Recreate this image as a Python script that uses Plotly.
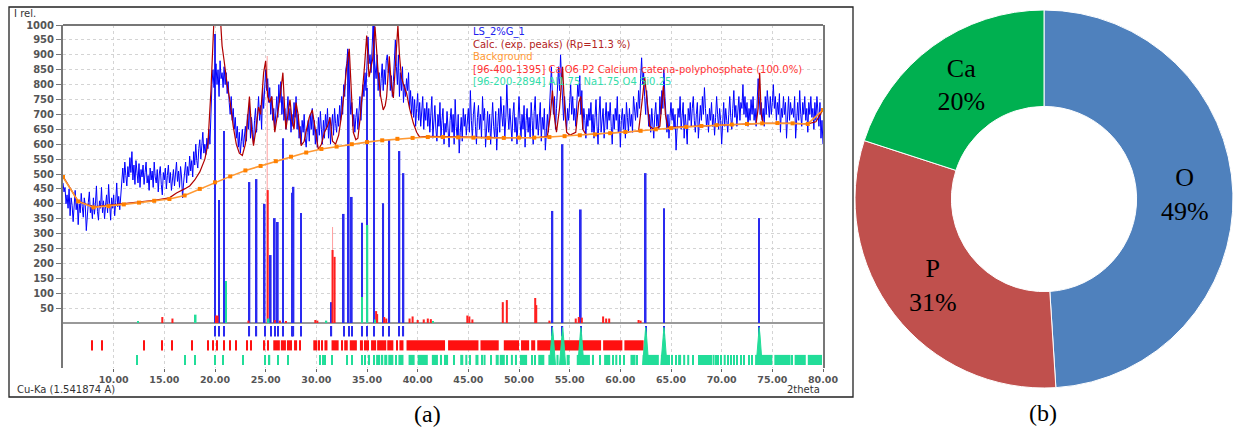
import plotly.graph_objects as go

# ---------------- XRD data ----------------
scan_start = 5.0
scan_step = 0.1
scan_counts = [
    470, 440, 455, 400, 430, 385, 450, 360, 420, 395, 340, 410, 445, 380, 415, 330, 400, 370, 435, 390,
    355, 420, 395, 310, 380, 405, 440, 370, 395, 350, 420, 365, 400, 460, 375, 345, 410, 385, 455, 370,
    410, 350, 395, 430, 370, 465, 400, 345, 420, 385, 430, 360, 405, 470, 390, 425, 380, 440, 500, 520,
    470, 540, 495, 460, 525, 490, 555, 505, 575, 480, 530, 465, 545, 500, 470, 535, 455, 515, 490, 530,
    465, 505, 540, 470, 495, 445, 520, 480, 510, 455, 540, 490, 470, 515, 440, 500, 525, 465, 430, 505,
    480, 520, 450, 495, 530, 470, 505, 445, 485, 515, 460, 500, 540, 475, 510, 455, 525, 490, 420, 470,
    505, 540, 470, 525, 495, 560, 510, 545, 490, 575, 530, 600, 545, 520, 585, 615, 550, 590, 640, 570,
    600, 565, 620, 585, 650, 600, 720, 800, 850, 790, 830, 870, 800, 850, 760, 880, 820, 840, 790, 860,
    800, 840, 770, 810, 740, 700, 760, 680, 720, 650, 690, 620, 660, 590, 640, 570, 610, 650, 590, 630,
    660, 610, 700, 650, 740, 620, 690, 650, 600, 680, 720, 640, 700, 760, 680, 730, 650, 790, 720, 770,
    850, 780, 820, 740, 790, 700, 760, 680, 720, 650, 700, 760, 690, 800, 740, 810, 700, 760, 680, 720,
    650, 700, 760, 680, 720, 640, 700, 660, 740, 690, 760, 650, 700, 620, 660, 600, 680, 640, 700, 620,
    590, 640, 680, 610, 700, 650, 720, 630, 680, 600, 650, 590, 690, 630, 710, 650, 600, 680, 620, 700,
    650, 720, 620, 690, 600, 660, 700, 630, 720, 670, 640, 700, 660, 730, 680, 760, 700, 800, 760, 850,
    870, 920, 840, 760, 700, 740, 660, 700, 640, 690, 720, 650, 710, 760, 680, 740, 800, 760, 840, 780,
    920, 960, 870, 900, 840, 950, 1000, 900, 860, 820, 900, 780, 840, 760, 820, 870, 780, 850, 800, 880,
    900, 840, 870, 780, 830, 760, 810, 880, 950, 860, 800, 900, 760, 840, 780, 860, 740, 800, 760, 820,
    780, 840, 720, 780, 700, 760, 690, 750, 660, 720, 770, 680, 740, 660, 700, 760, 650, 720, 680, 740,
    660, 720, 640, 700, 760, 620, 690, 730, 650, 610, 700, 660, 740, 620, 680, 720, 600, 670, 640, 710,
    650, 590, 680, 720, 640, 700, 600, 750, 660, 620, 700, 570, 640, 690, 610, 720, 660, 700, 630, 690,
    720, 640, 780, 680, 620, 700, 740, 660, 600, 690, 730, 650, 700, 620, 760, 680, 720, 590, 670, 710,
    640, 700, 600, 680, 740, 660, 620, 710, 580, 660, 720, 640, 760, 700, 660, 730, 620, 690, 800, 700,
    650, 720, 680, 610, 700, 740, 640, 690, 600, 660, 760, 680, 620, 700, 650, 730, 590, 680, 720, 640,
    690, 620, 740, 680, 600, 710, 760, 650, 700, 630, 680, 740, 610, 690, 650, 720, 580, 660, 700, 640,
    720, 800, 860, 760, 700, 760, 650, 720, 800, 860, 780, 900, 820, 740, 680, 760, 700, 650, 720, 680,
    740, 800, 700, 760, 680, 720, 660, 740, 800, 760, 830, 700, 780, 650, 720, 680, 620, 700, 660, 720,
    680, 740, 640, 700, 620, 690, 750, 660, 600, 700, 760, 640, 690, 720, 620, 680, 740, 650, 710, 680,
    740, 660, 600, 700, 650, 720, 680, 760, 640, 700, 590, 680, 720, 650, 700, 620, 740, 690, 640, 720,
    660, 700, 640, 760, 700, 680, 740, 690, 780, 720, 820, 890, 800, 840, 760, 700, 780, 720, 660, 700,
    640, 720, 680, 620, 700, 740, 660, 700, 650, 760, 700, 780, 720, 850, 760, 700, 640, 700, 620, 690,
    740, 680, 720, 650, 700, 580, 660, 720, 690, 760, 650, 700, 740, 620, 700, 660, 600, 720, 680, 740,
    660, 720, 760, 680, 640, 700, 740, 620, 690, 730, 680, 760, 700, 790, 720, 660, 700, 640, 720, 680,
    740, 660, 700, 630, 690, 760, 700, 650, 720, 680, 600, 700, 740, 660, 720, 680, 640, 700, 760, 690,
    650, 720, 780, 690, 730, 660, 700, 760, 680, 740, 720, 800, 700, 760, 690, 740, 660, 720, 680, 750,
    700, 760, 680, 720, 660, 740, 820, 760, 700, 740, 680, 720, 660, 760, 700, 780, 740, 690, 760, 700,
    740, 800, 720, 760, 680, 740, 700, 770, 640, 720, 690, 760, 700, 740, 620, 700, 760, 680, 740, 700,
    720, 690, 760, 620, 700, 740, 680, 780, 700, 660, 740, 700, 760, 680, 720, 640, 740, 700, 760, 690,
    720, 650, 740, 680, 760, 700, 660, 740, 620, 680, 600,
]
scan_x = [round(scan_start + i * scan_step, 2) for i in range(len(scan_counts))]

calc_x = [5.0, 6.5, 8.0, 10.0, 12.0, 14.0, 15.5, 16.2, 17.0, 17.5, 18.0, 18.5, 19.0, 19.3, 19.6, 19.8,
          20.0, 20.3, 20.5, 20.7, 20.9, 21.2, 21.5, 21.8, 22.1, 22.4, 22.7, 23.0, 23.2, 23.4, 23.6,
          23.8, 24.0, 24.3, 24.5, 24.8, 25.0, 25.2, 25.4, 25.6, 25.9, 26.1, 26.3, 26.5, 26.7, 26.9,
          27.0, 27.2, 27.4, 27.6, 27.8, 28.0, 28.2, 28.5, 28.8, 29.0, 29.3, 29.6, 29.9, 30.2, 30.5,
          30.8, 31.1, 31.35, 31.6, 31.9, 32.2, 32.5, 32.8, 33.0, 33.25, 33.45, 33.65, 33.9, 34.1,
          34.3, 34.5, 34.75, 34.97, 35.2, 35.4, 35.56, 35.79, 35.95, 36.1, 36.35, 36.6, 36.8, 36.94,
          37.2, 37.4, 37.6, 37.85, 38.05, 38.2, 38.4, 38.6, 38.9, 39.2, 39.57, 39.9, 40.2, 41.0,
          44.0, 48.0, 52.0, 52.8, 53.1, 53.3, 53.5, 53.7, 54.0, 54.3, 54.5, 54.7, 55.0, 55.6, 55.9,
          56.1, 56.3, 56.6, 58.0, 60.0, 61.8, 62.2, 62.4, 62.6, 62.9, 63.3, 63.9, 64.1, 64.25,
          64.45, 64.7, 66.0, 70.0, 73.4, 73.6, 73.75, 73.9, 74.1, 77.0, 78.5, 79.3, 80.0]
calc_y = [492, 408, 390, 397, 405, 412, 420, 436, 450, 460, 480, 507, 550, 600, 780, 950,
          1100, 1150, 1050, 930, 880, 800, 740, 660, 600, 570, 562, 600, 680, 760, 650,
          595, 640, 725, 700, 840, 880, 760, 740, 760, 640, 680, 730, 780, 840, 700,
          650, 700, 750, 680, 650, 740, 700, 595, 610, 645, 690, 715, 640, 582, 600,
          640, 660, 690, 610, 600, 630, 700, 790, 860, 920, 760, 640, 615, 620,
          680, 750, 860, 965, 825, 860, 885, 995, 900, 840, 760, 715, 730, 760,
          895, 800, 755, 880, 1000, 900, 825, 800, 772, 720, 671, 640, 624, 626,
          624, 622, 623, 626, 700, 780, 690, 640, 720, 860, 720, 640, 630, 640, 740,
          760, 650, 632, 635, 640, 644, 760, 825, 760, 660, 650, 660, 740, 795,
          700, 656, 658, 665, 669, 720, 840, 700, 670, 670, 668, 675, 715]

bg_x = [5.0, 6.5, 8.0, 9.5, 11.0, 12.5, 14.0, 15.5, 17.0, 18.5, 20.0, 21.5, 23.0, 24.5, 26.0,
        27.5, 29.0, 30.5, 32.0, 33.5, 35.0, 36.5, 38.0, 39.5, 41.0, 42.5, 44.0, 45.5, 47.0,
        48.5, 50.0, 51.5, 53.0, 54.5, 56.0, 57.5, 59.0, 60.5, 62.0, 63.5, 65.0, 66.5, 68.0,
        69.5, 71.0, 72.5, 74.0, 75.5, 77.0, 78.5, 80.0]
bg_y = [490, 408, 388, 392, 398, 404, 410, 416, 428, 450, 472, 492, 512, 527, 543,
        558, 572, 584, 592, 600, 607, 613, 618, 621, 624, 624, 623, 622, 621,
        621, 622, 622, 624, 627, 630, 633, 637, 641, 645, 650, 654, 658, 661,
        664, 666, 668, 670, 671, 670, 668, 715]

# measured peak positions (blue sticks)
peak_x = [20.0, 20.4, 20.9, 23.4, 24.1, 24.9, 25.5, 25.9, 26.2, 26.7, 27.6, 27.75, 28.5, 31.5,
          32.7, 33.2, 33.5, 34.5, 35.0, 35.7, 36.6, 37.2, 38.2, 38.6, 53.3, 54.3, 56.1, 62.5,
          64.3, 73.7]
peak_h = [970, 413, 644, 473, 483, 400, 228, 352, 339, 620, 437, 457, 369, 70,
          366, 909, 423, 336, 789, 1000, 402, 617, 577, 503, 376, 600, 381, 503,
          385, 352]

# Ca O6 P2 phase sticks (red)
ca_x = [14.8, 15.8, 20.1, 20.25, 23.3, 25.2, 25.9, 26.4, 27.0, 29.9, 30.1, 31.6, 31.8, 35.9,
        36.0, 36.7, 36.9, 39.2, 39.5, 40.0, 40.6, 41.0, 41.3, 44.9, 45.1, 45.4, 48.4, 48.8,
        51.6, 51.7, 53.0, 55.6, 55.9, 56.2, 58.3, 58.6, 58.9, 61.8, 62.0]
ca_h = [20, 15, 25, 25, 8, 446, 10, 8, 6, 10, 8, 245, 222, 40,
        30, 20, 15, 15, 22, 10, 12, 15, 13, 25, 22, 12, 70, 77,
        84, 60, 8, 15, 20, 18, 22, 15, 15, 10, 8]
ca_faint_x = [25.15, 31.6]
ca_faint_h = [896, 322]

# Al1.75 Na1.75 O4 Si0.25 phase sticks (green)
na_x = [12.4, 18.1, 21.1, 25.3, 31.0, 34.5, 35.05, 35.8, 41.5]
na_h = [5, 28, 141, 15, 8, 87, 329, 12, 6]

# phase position rows under the baseline (start, end) in 2theta
ca_rows = [(7.8, 7.9), (8.8, 8.9), (12.9, 13.0), (14.75, 14.85), (15.7, 15.8), (17.7, 17.8),
           (19.3, 19.4), (19.8, 19.9), (20.1, 20.2), (20.85, 20.95), (21.45, 21.55), (22.0, 22.1),
           (23.1, 23.2), (23.5, 23.6), (24.8, 24.95), (25.2, 25.3), (25.75, 26.4), (26.5, 27.0),
           (27.1, 27.6), (27.8, 28.1), (28.3, 28.4), (29.7, 30.1), (30.25, 30.35), (30.5, 30.6),
           (30.8, 31.1), (31.5, 32.2), (32.5, 32.6), (32.75, 33.1), (33.3, 34.0), (34.3, 34.6),
           (34.7, 35.2), (35.4, 35.9), (36.0, 36.9), (37.0, 37.6), (37.9, 38.0), (38.2, 38.6),
           (38.9, 42.7), (43.0, 46.0), (46.2, 48.0), (48.5, 50.0), (50.2, 51.0), (51.2, 51.6),
           (51.8, 58.1), (58.3, 60.2), (60.4, 62.3)]
na_rows = [(12.3, 12.4), (17.0, 17.1), (18.0, 18.1), (19.95, 20.05), (20.75, 20.85), (22.7, 22.8),
           (24.9, 25.0), (25.3, 25.45), (26.2, 26.3), (27.2, 27.3), (30.35, 30.45), (30.6, 30.7),
           (30.8, 30.9), (31.45, 31.55), (32.95, 33.05), (33.45, 33.55), (34.5, 34.6), (34.8, 34.9),
           (35.1, 35.3), (35.6, 35.75), (35.9, 36.3), (36.45, 36.6), (36.7, 37.0), (37.1, 37.6),
           (37.8, 37.95), (38.1, 38.6), (39.1, 39.7), (40.0, 41.0), (41.4, 42.0), (42.2, 42.4),
           (42.6, 43.0), (43.5, 43.6), (44.2, 44.5), (44.7, 44.9), (45.1, 45.2), (45.7, 46.0),
           (46.3, 46.45), (46.5, 46.7), (47.2, 47.3), (47.7, 48.0), (48.1, 48.6), (48.8, 48.9),
           (49.2, 49.4), (49.6, 49.8), (50.1, 50.8), (51.2, 51.3), (51.5, 51.6), (51.9, 52.5),
           (52.9, 53.1), (53.3, 53.5), (53.7, 53.9), (54.1, 54.4), (54.7, 55.0), (55.7, 56.0),
           (56.3, 57.0), (57.2, 57.4), (57.9, 58.0), (58.4, 59.0), (59.2, 59.3), (59.5, 59.7),
           (59.9, 60.0), (60.3, 60.4), (61.0, 61.5), (61.6, 61.7), (62.2, 63.8), (64.0, 64.2),
           (64.4, 64.9), (65.0, 65.2), (65.4, 65.5), (65.7, 66.0), (66.2, 66.4), (66.6, 66.8),
           (67.1, 67.2), (67.7, 67.8), (67.9, 68.0), (68.1, 68.2), (68.3, 68.4), (68.5, 68.6),
           (68.7, 68.8), (68.9, 69.0), (69.1, 69.3), (69.4, 69.5), (69.6, 69.7), (69.9, 70.0),
           (70.2, 70.4), (70.6, 70.7), (70.9, 71.0), (71.2, 71.3), (71.5, 71.6), (71.9, 72.0),
           (72.2, 72.3), (72.6, 72.7), (72.9, 73.0), (73.3, 75.0), (75.2, 76.8), (76.9, 77.0),
           (77.2, 78.3), (78.5, 79.9)]
na_band_peaks = [53.3, 54.3, 56.1, 62.5, 64.3, 73.7]

x_ticks = [10, 15, 20, 25, 30, 35, 40, 45, 50, 55, 60, 65, 70, 75, 80]
y_ticks = list(range(50, 1001, 50))

legend_lines = [
    ("LS_2%G_1", "#2222EE"),
    ("Calc. (exp. peaks) (Rp=11.3 %)", "#B22222"),
    ("Background", "#FF9933"),
    ("[96-400-1395] Ca O6 P2 Calcium catena-polyphosphate (100.0%)", "#FF3333"),
    ("[96-200-2894] Al1.75 Na1.75 O4 Si0.25", "#33DDAA"),
]

# ---------------- composition (pie) ----------------
pie_labels = ["O", "P", "Ca"]
pie_values = [49, 31, 20]
pie_colors = ["#4F81BD", "#C0504D", "#00B050"]

W, H = 1240, 434
fig = go.Figure()


def row_bars(ranges, base, height, color):
    xs = [(a + b) / 2 for a, b in ranges]
    ws = [max(b - a, 0.09) for a, b in ranges]
    return go.Bar(x=xs, y=[height] * len(xs), base=base, width=ws,
                  marker=dict(color=color, line=dict(width=0)), showlegend=False, hoverinfo="skip")


# sticks
fig.add_trace(go.Bar(x=ca_faint_x, y=ca_faint_h, width=0.1,
                     marker=dict(color="rgba(255,120,120,0.7)", line=dict(width=0)), hoverinfo="skip"))
fig.add_trace(go.Bar(x=peak_x, y=peak_h, width=0.17,
                     marker=dict(color="#2A2AF0", line=dict(width=0)), hoverinfo="skip"))
fig.add_trace(go.Bar(x=ca_x, y=ca_h, width=0.2,
                     marker=dict(color="#FF2020", line=dict(width=0)), hoverinfo="skip"))
fig.add_trace(go.Bar(x=na_x, y=na_h, width=0.15,
                     marker=dict(color="#22DD99", line=dict(width=0)), hoverinfo="skip"))

# position rows
fig.add_trace(row_bars([(p - 0.06, p + 0.06) for p in peak_x], -45, 35, "#2A2AF0"))
fig.add_trace(row_bars(ca_rows, -92, 34, "#FF1010"))
fig.add_trace(row_bars(na_rows, -141, 34, "#22DD99"))

tri_x, tri_y = [], []
for c in na_band_peaks:
    tri_x += [c - 0.3, c - 0.08, c, c + 0.08, c + 0.3, None]
    tri_y += [-141, -40, -15, -40, -141, None]
fig.add_trace(go.Scatter(x=tri_x, y=tri_y, mode="lines", fill="toself", fillcolor="#22DD99",
                         line=dict(color="#22DD99", width=1), hoverinfo="skip"))

# measured, calculated, background
fig.add_trace(go.Scatter(x=scan_x, y=scan_counts, mode="lines",
                         line=dict(color="#0000FF", width=1), hoverinfo="skip"))
fig.add_trace(go.Scatter(x=calc_x, y=calc_y, mode="lines",
                         line=dict(color="#B00000", width=1.2), hoverinfo="skip"))
fig.add_trace(go.Scatter(x=bg_x, y=bg_y, mode="lines+markers",
                         line=dict(color="#FF9933", width=1.6),
                         marker=dict(symbol="square", size=4, color="#FF8000"), hoverinfo="skip"))

fig.add_trace(go.Pie(
    labels=pie_labels, values=pie_values, hole=0.49, sort=False, direction="clockwise", rotation=0,
    marker=dict(colors=pie_colors, line=dict(color="white", width=1)),
    text=[f"{l}<br>{v}%" for l, v in zip(pie_labels, pie_values)], textinfo="text",
    textposition="inside", insidetextorientation="horizontal",
    insidetextfont=dict(family="Liberation Serif", size=26, color="black"),
    domain=dict(x=[855 / W, 1233 / W], y=[1 - 388 / H, 1 - 10 / H]),
    showlegend=False, hoverinfo="skip"))

xtickfont = dict(family="DejaVu Sans", size=9.5, color="#555555", weight="bold")
ytickfont = dict(family="DejaVu Sans", size=10, color="#555555", weight="bold")
fig.update_layout(
    width=W, height=H, margin=dict(l=0, r=0, t=0, b=0, autoexpand=False),
    paper_bgcolor="white", plot_bgcolor="white", barmode="overlay", showlegend=False,
    xaxis=dict(domain=[63 / W, 823 / W], range=[5, 80], tickvals=x_ticks, automargin=False,
               ticktext=[f"{v:.2f}" for v in x_ticks], showgrid=True, gridcolor="#d4d4d4",
               griddash="dot", gridwidth=1, ticks="outside", ticklen=3, tickcolor="#666",
               showline=False, zeroline=False, tickfont=xtickfont),
    yaxis=dict(domain=[1 - 368 / H, 1 - 25 / H], range=[-151, 1000], tickvals=y_ticks,
               automargin=False,
               showgrid=True, gridcolor="#d4d4d4", griddash="dot", gridwidth=1,
               showline=True, linecolor="#777", linewidth=2, mirror=True,
               ticks="outside", ticklen=5, tickcolor="#777",
               zeroline=True, zerolinecolor="#999", zerolinewidth=1.5, tickfont=ytickfont),
)

shapes = [
    dict(type="line", xref="x domain", yref="y domain", x0=0, x1=1, y0=1, y1=1,
         line=dict(color="#777", width=2)),
    dict(type="rect", xref="paper", yref="paper", x0=9 / W, x1=853 / W, y0=1 - 397 / H, y1=1 - 7 / H,
         line=dict(color="#222", width=1.3)),
]
fig.update_layout(shapes=shapes)

ann = []
small = dict(family="DejaVu Sans", size=10, color="#333")
ann.append(dict(text="I rel.", x=12 / W, y=1 - 14 / H, xref="paper", yref="paper",
                xanchor="left", yanchor="middle", showarrow=False, font=small))
ann.append(dict(text="Cu-Ka (1.541874 A)", x=15 / W, y=1 - 389 / H, xref="paper", yref="paper",
                xanchor="left", yanchor="middle", showarrow=False, font=small))
ann.append(dict(text="2theta", x=822 / W, y=1 - 389 / H, xref="paper", yref="paper",
                xanchor="right", yanchor="middle", showarrow=False, font=small))
for i, (t, c) in enumerate(legend_lines):
    ann.append(dict(text=t, x=471 / W, y=1 - (32.3 + 12.25 * i) / H, xref="paper", yref="paper",
                    xanchor="left", yanchor="middle", showarrow=False,
                    font=dict(family="DejaVu Sans", size=10, color=c)))
serif = dict(family="Liberation Serif", size=24, color="black")
ann.append(dict(text="(a)", x=427 / W, y=1 - 414 / H, xref="paper", yref="paper",
                xanchor="center", yanchor="middle", showarrow=False, font=serif))
ann.append(dict(text="(b)", x=1043 / W, y=1 - 413 / H, xref="paper", yref="paper",
                xanchor="center", yanchor="middle", showarrow=False, font=serif))
fig.update_layout(annotations=ann)

fig.write_html("out.html")
